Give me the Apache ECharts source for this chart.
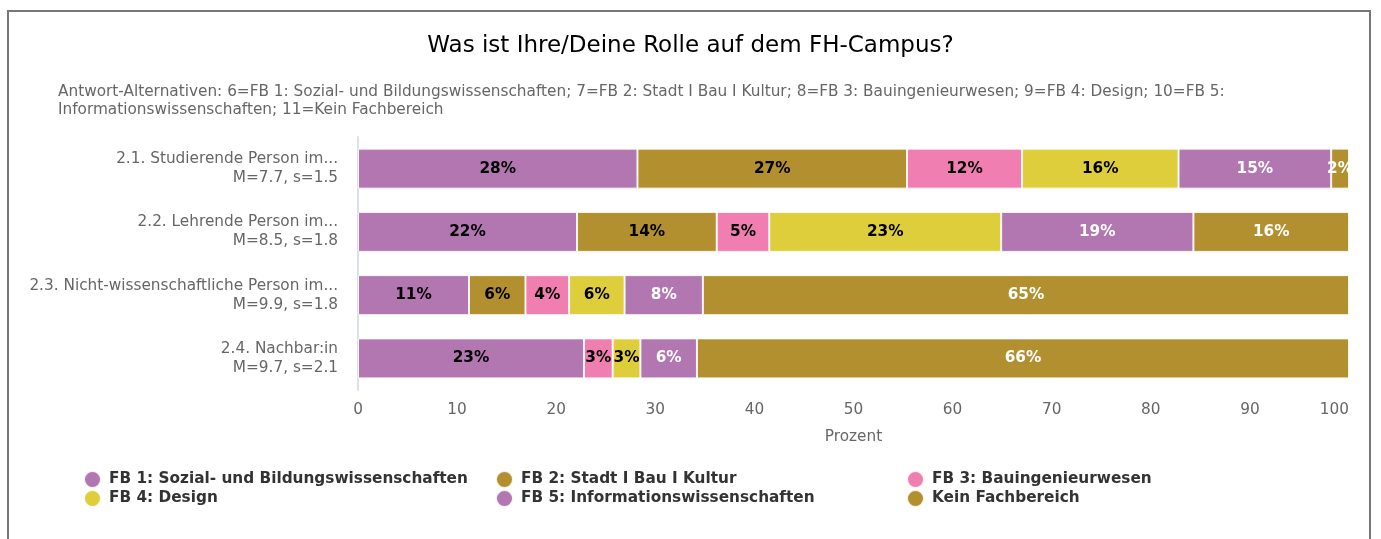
<!DOCTYPE html>
<html>
<head>
<meta charset="utf-8">
<script src="https://cdn.jsdelivr.net/npm/echarts@6/dist/echarts.min.js"></script>
<style>
html, body { margin: 0; padding: 0; background: #fff; }
#main { width: 1381px; height: 539px; }
</style>
</head>
<body>
<div id="main"></div>
<script>
var categories = [
	'2.1. Studierende Person im...\nM=7.7, s=1.5',
	'2.2. Lehrende Person im...\nM=8.5, s=1.8',
	'2.3. Nicht-wissenschaftliche Person im...\nM=9.9, s=1.8',
	'2.4. Nachbar:in\nM=9.7, s=2.1'
];
var seriesNames = [
	'FB 1: Sozial- und Bildungswissenschaften',
	'FB 2: Stadt I Bau I Kultur',
	'FB 3: Bauingenieurwesen',
	'FB 4: Design',
	'FB 5: Informationswissenschaften',
	'Kein Fachbereich'
];
var fb1 = [28.2, 22.1, 11.2, 22.8];
var fb2 = [27.2, 14.1, 5.7, 0];
var fb3 = [11.6, 5.3, 4.4, 2.9];
var fb4 = [15.8, 23.4, 5.6, 2.8];
var fb5 = [15.4, 19.4, 7.9, 5.7];
var kein = [1.8, 15.7, 65.2, 65.8];
var xTicks = [0, 10, 20, 30, 40, 50, 60, 70, 80, 90, 100];

var colors = ['#b276b0', '#b3902f', '#f17eb0', '#dfce3c', '#b276b0', '#b3902f'];
var labelColors = ['#000', '#000', '#000', '#000', '#fff', '#fff'];
var values = [fb1, fb2, fb3, fb4, fb5, kein];
var FONT = 'DejaVu Sans';
var FS = 15.3;

var myChart = echarts.init(document.getElementById('main'));

var series = values.map(function (arr, i) {
	return {
		name: seriesNames[i],
		type: 'bar',
		stack: 'total',
		barWidth: 40,
		data: arr,
		itemStyle: {
			color: colors[i],
			borderColor: 'rgba(255,255,255,0.85)',
			borderWidth: 1
		},
		label: {
			show: true,
			position: 'inside',
			color: labelColors[i],
			fontFamily: FONT,
			fontWeight: 'bold',
			fontSize: FS,
			formatter: function (p) {
				return p.value > 0 ? Math.round(p.value) + '%' : '';
			}
		}
	};
});

function legendBlock(names, left) {
	return {
		orient: 'vertical',
		left: left,
		top: 470,
		padding: 0,
		itemGap: 0,
		icon: 'circle',
		itemWidth: 17,
		itemHeight: 17,
		data: names,
		textStyle: {
			fontFamily: FONT,
			fontWeight: 'bold',
			fontSize: FS,
			color: '#333',
			padding: [0, 0, 0, 3]
		}
	};
}

option = {
	backgroundColor: '#fff',
	animation: false,
	graphic: [{
		type: 'rect',
		shape: { x: 8, y: 11, width: 1362, height: 560 },
		style: { fill: 'none', stroke: '#777', lineWidth: 2 }
	}],
	title: [{
		text: 'Was ist Ihre/Deine Rolle auf dem FH-Campus?',
		left: 'center',
		top: 30,
		textStyle: {
			fontFamily: FONT,
			fontWeight: 'normal',
			fontSize: 23,
			color: '#000'
		}
	}, {
		text: 'Antwort-Alternativen: 6=FB 1: Sozial- und Bildungswissenschaften; 7=FB 2: Stadt I Bau I Kultur; 8=FB 3: Bauingenieurwesen; 9=FB 4: Design; 10=FB 5:\nInformationswissenschaften; 11=Kein Fachbereich',
		left: 53,
		top: 78,
		textStyle: {
			fontFamily: FONT,
			fontWeight: 'normal',
			fontSize: FS,
			lineHeight: 18,
			color: '#666'
		}
	}],
	legend: [
		legendBlock([seriesNames[0], seriesNames[3]], 83),
		legendBlock([seriesNames[1], seriesNames[4]], 495),
		legendBlock([seriesNames[2], seriesNames[5]], 906)
	],
	grid: {
		left: 358,
		right: 32,
		top: 137,
		bottom: 149
	},
	xAxis: {
		type: 'value',
		min: xTicks[0],
		max: xTicks[xTicks.length - 1],
		interval: 10,
		name: 'Prozent',
		nameLocation: 'middle',
		nameGap: 40,
		nameTextStyle: { fontFamily: FONT, fontSize: FS, color: '#666' },
		axisLine: { show: false },
		axisTick: { show: false },
		splitLine: { show: false },
		axisLabel: {
			fontFamily: FONT,
			fontSize: FS,
			color: '#666',
			margin: 13,
			alignMaxLabel: 'right'
		}
	},
	yAxis: {
		type: 'category',
		inverse: true,
		data: categories,
		axisLine: { show: true, lineStyle: { color: '#dbe0ec', width: 2 } },
		axisTick: { show: false },
		axisLabel: {
			fontFamily: FONT,
			fontSize: FS,
			lineHeight: 19,
			color: '#666',
			margin: 20,
			align: 'right'
		}
	},
	series: series
};

myChart.setOption(option);
</script>
</body>
</html>
